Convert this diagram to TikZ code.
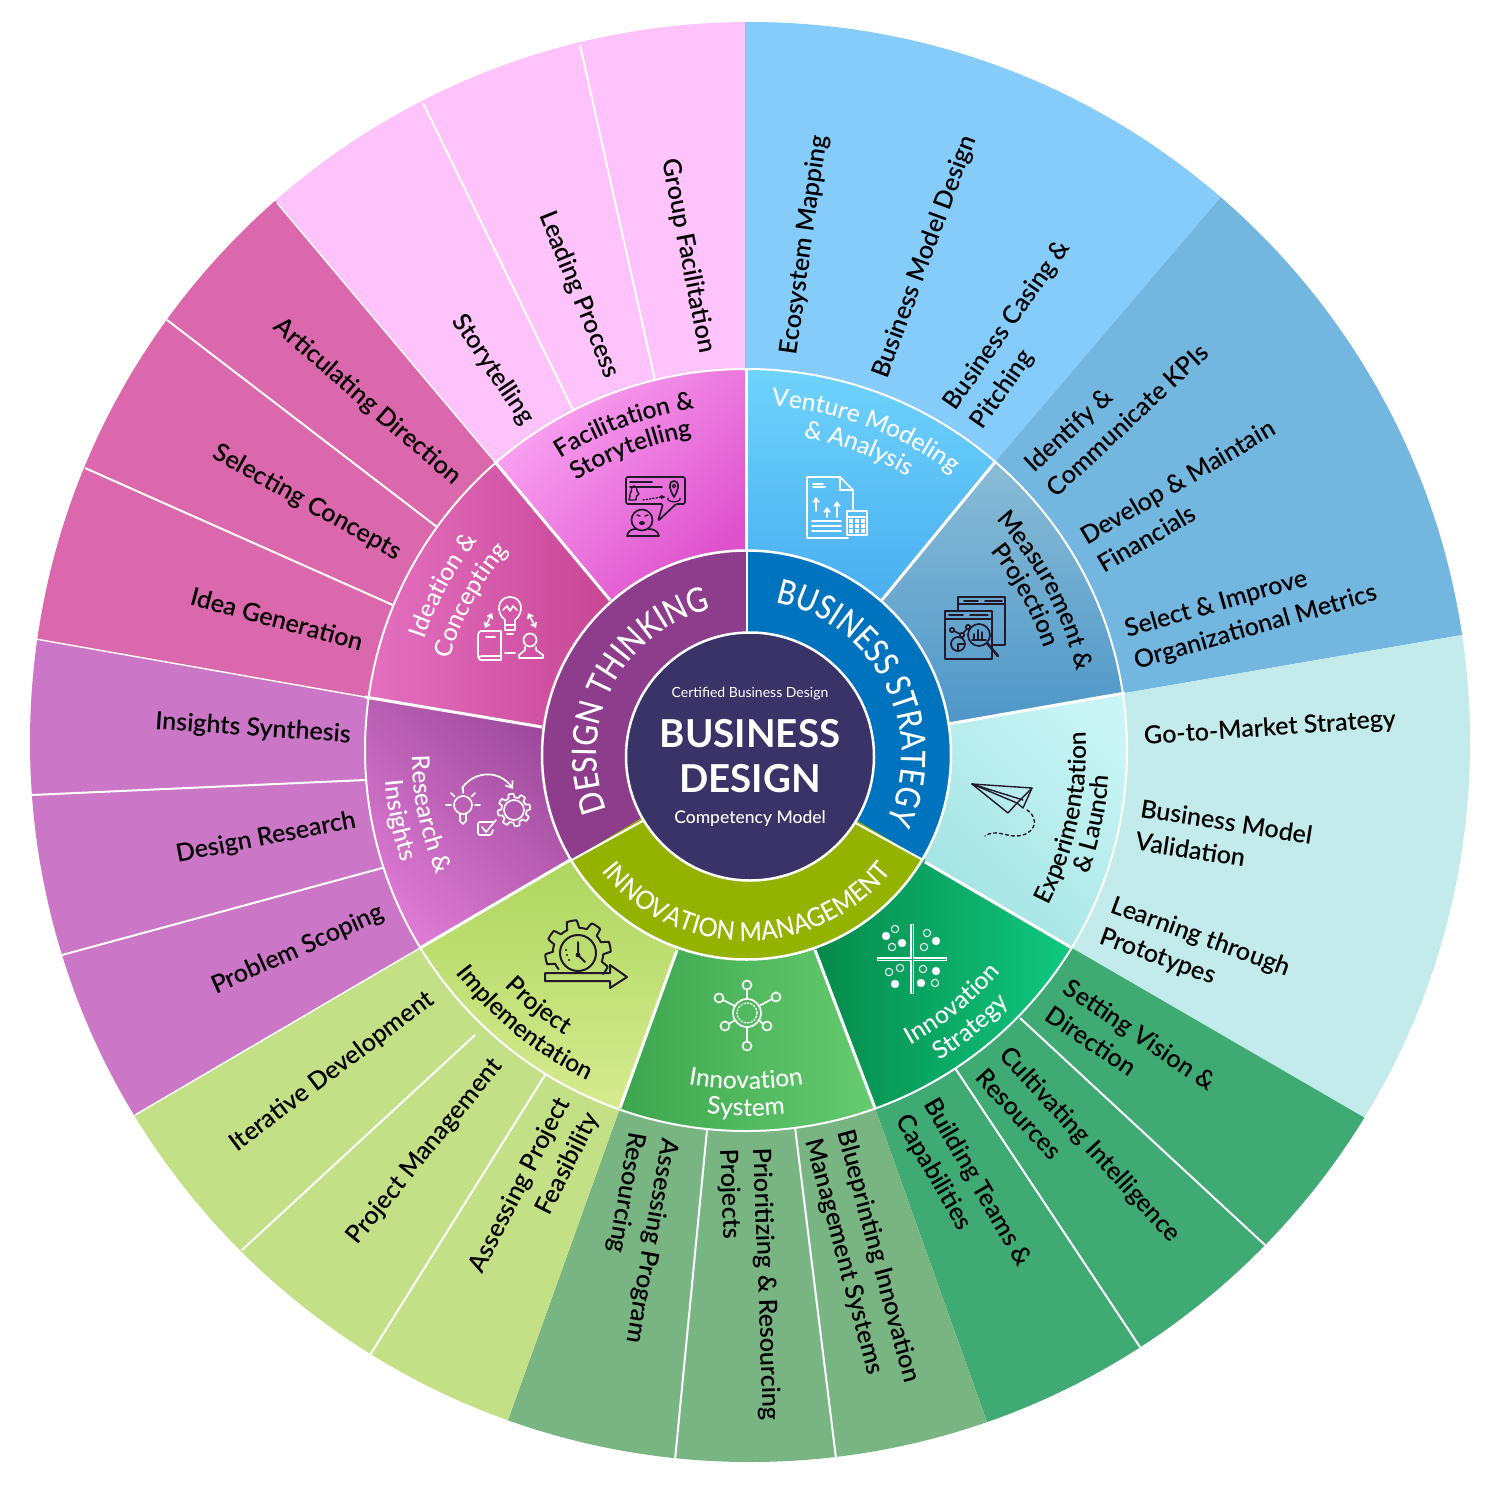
\documentclass[tikz,border=0pt]{standalone}
\usepackage{fontspec}
\usetikzlibrary{calc,decorations.text,arrows.meta}
\setmainfont{Lato Semibold}
\newfontfamily\titlefont{Lato}
\newfontfamily\thinfont{Lato}
\newfontfamily\medfont{Lato Medium}
\newfontfamily\condA{Lato Medium}[FakeStretch=0.86]
\newfontfamily\condB{Lato Medium}[FakeStretch=0.84]
\newfontfamily\condC{Lato Medium}[FakeStretch=0.92]
\definecolor{oBlueA}{HTML}{85CCFA}
\definecolor{oBlueB}{HTML}{73B6E0}
\definecolor{oTeal}{HTML}{C3EBEC}
\definecolor{oDkGreen}{HTML}{40AA74}
\definecolor{oGrey}{HTML}{79B583}
\definecolor{oLtGreen}{HTML}{C3E087}
\definecolor{oPurple}{HTML}{CB76C7}
\definecolor{oMagenta}{HTML}{DB68AC}
\definecolor{oPink}{HTML}{FEC3FA}
\definecolor{cPurple}{HTML}{8E3D8C}
\definecolor{cBlue}{HTML}{0073BF}
\definecolor{cOlive}{HTML}{94B200}
\definecolor{cCore}{HTML}{3A3368}
\definecolor{icDark}{HTML}{22182A}
\definecolor{mVentA}{HTML}{6ED3FC}
\definecolor{mVentB}{HTML}{4AAEF0}
\definecolor{mMeasA}{HTML}{8ABCD6}
\definecolor{mMeasB}{HTML}{4E97C9}
\definecolor{mExpA}{HTML}{A3E3E3}
\definecolor{mExpB}{HTML}{C9F5F6}
\definecolor{mStrA}{HTML}{068A4B}
\definecolor{mStrB}{HTML}{10C880}
\definecolor{mSysA}{HTML}{3CA64E}
\definecolor{mSysB}{HTML}{66CB70}
\definecolor{mProA}{HTML}{AED65F}
\definecolor{mProB}{HTML}{D6EB90}
\definecolor{mResA}{HTML}{DF7BD5}
\definecolor{mResB}{HTML}{9E4A9C}
\definecolor{mIdeA}{HTML}{E470C0}
\definecolor{mIdeB}{HTML}{C94595}
\definecolor{mFacA}{HTML}{FAA5F3}
\definecolor{mFacB}{HTML}{DE50CC}
\newcommand\outerw[5]{\fill[#1] (C) -- #2 -- ($#2!1.6!#3$) -- ($#5!1.6!#4$) -- #5 -- cycle;}
\newcommand\ringw[5]{\shade[#1] #2 -- ($(C)+(#3:381pt)$) arc[start angle=#3,end angle=#4,radius=381pt] -- #5 -- cycle;}
\newcommand\midfontw{\medfont\fontsize{24.5}{30}\selectfont\color{white}}
\newcommand\midfontk{\fontsize{24.5}{30}\selectfont\color{black}}
\newcommand\coreA{\condA\fontsize{34}{40}\selectfont\color{white}}
\newcommand\coreB{\condB\fontsize{34}{40}\selectfont\color{white}}
\newcommand\innofont{\condC\fontsize{26}{30}\selectfont\color{white}}
\newcommand\arctext[5]{\path[decorate,decoration={text along path,text align=center,text={|#5|#4}}] ($(C)+(#2:#1pt)$) arc[start angle=#2,end angle=#3,radius=#1pt];}
\newcommand\arctextK[5]{\path[decorate,decoration={text along path,text align=center,text={|#5|#4}}] ($(K)+(#2:#1pt)$) arc[start angle=#2,end angle=#3,radius=#1pt];}
\newcommand\gearshape[6]{\draw[#6] plot[samples=240,domain=#4] ({#1+(#3+0.13*#3*max(-1,min(1,3*sin(#5*\x))))*cos(\x)},{#2-(#3+0.13*#3*max(-1,min(1,3*sin(#5*\x))))*sin(\x)});}
\tikzset{
  lbl/.style={font=\fontsize{25}{33}\selectfont,inner sep=0pt,align=center,text=black},
  lblL/.style={lbl,align=left},
  lblR/.style={lbl,align=right},
  sep/.style={white,line width=2pt},
  bigsep/.style={white,line width=3pt},
  ic/.style={line width=1.7pt,line cap=round,line join=round},
  icw/.style={ic,white},
  ick/.style={ic,icDark},
}
\begin{document}
\begin{tikzpicture}[x=1pt,y=-1pt]
\useasboundingbox (0,0) rectangle (1500,1485);
\fill[white] (0,0) rectangle (1500,1485);
\coordinate (C) at (746,750);
\coordinate (K) at (746.5,755);
% ---------- outer ring
\begin{scope}
\clip (750,742) circle[radius=720pt];
\outerw{oPink}{(495,462)}{(277,203)}{(745,22)}{(745,370)}
\outerw{oBlueA}{(745,370)}{(745,22)}{(1220,198)}{(995,462)}
\outerw{oBlueB}{(995,462)}{(1220,198)}{(1462,635)}{(1125,693)}
\outerw{oTeal}{(1125,693)}{(1462,635)}{(1365,1118)}{(1072,948)}
\outerw{oDkGreen}{(1072,948)}{(1365,1118)}{(987,1422)}{(875,1108)}
\outerw{oGrey}{(875,1108)}{(987,1422)}{(508,1420)}{(620,1108)}
\outerw{oLtGreen}{(620,1108)}{(508,1420)}{(135,1115)}{(420,948)}
\outerw{oPurple}{(420,948)}{(135,1115)}{(30,638)}{(365,697)}
\outerw{oMagenta}{(365,697)}{(30,638)}{(277,203)}{(495,462)}
\draw[sep] (655,380) -- (580,45);
\draw[sep] (573,410) -- (423,103);
\draw[sep] (437,527) -- (167,320);
\draw[sep] (395,606) -- (85,468);
\draw[sep] (365,780) -- (32,795);
\draw[sep] (386,867) -- (62,955);
\draw[sep] (475,1035) -- (242,1250);
\draw[sep] (545,1075) -- (370,1355);
\draw[sep] (707,1130) -- (675,1460);
\draw[sep] (795,1127) -- (836,1458);
\draw[sep] (955,1068) -- (1140,1347);
\draw[sep] (1020,1018) -- (1265,1245);
\draw[sep,line width=1.4pt] (495,462) -- (277,203);
\draw[sep,line width=1.4pt] (365,697) -- (30,638);
\draw[sep,line width=1.4pt] (420,948) -- (135,1115);
\end{scope}
% ---------- middle ring
\ringw{left color=mFacA,right color=mFacB,shading angle=45}{(610,600)}{131.1}{90}{(746,551)}
\ringw{top color=mVentA,bottom color=mVentB}{(746,551)}{90}{49.2}{(882,600)}
\ringw{top color=mMeasA,bottom color=mMeasB}{(882,600)}{49.2}{8.55}{(948,724)}
\ringw{left color=mExpA,right color=mExpB,shading angle=135}{(948,724)}{8.55}{-31.3}{(925,862)}
\ringw{left color=mStrA,right color=mStrB}{(925,862)}{-31.3}{-70.3}{(815,950)}
\ringw{left color=mSysA,right color=mSysB}{(815,950)}{289.7}{250.5}{(677,950)}
\ringw{top color=mProA,bottom color=mProB}{(677,950)}{250.5}{211.3}{(570,860)}
\ringw{left color=mResA,right color=mResB,shading angle=135}{(570,860)}{211.3}{172}{(542,727)}
\ringw{left color=mIdeA,right color=mIdeB}{(542,727)}{172}{131.1}{(610,600)}
\draw[sep] (C) circle[radius=381pt];
\draw[bigsep] (746,551) -- (746,370);
\draw[bigsep] (882,600) -- (995,462);
\draw[bigsep] (948,724) -- (1125,693);
\draw[bigsep] (925,862) -- (1072,948);
\draw[bigsep] (815,950) -- (875,1108);
\draw[bigsep] (677,950) -- (620,1108);
\draw[bigsep] (570,860) -- (420,948);
\draw[bigsep] (542,727) -- (365,697);
\draw[bigsep] (610,600) -- (495,462);
% ---------- core ring
\fill[cPurple] (K) -- ($(K)+(211:204.5pt)$) arc[start angle=211,end angle=90,radius=204.5pt] -- cycle;
\fill[cBlue] (K) -- ($(K)+(90:204.5pt)$) arc[start angle=90,end angle=-30.7,radius=204.5pt] -- cycle;
\fill[cOlive] (K) -- ($(K)+(-30.7:204.5pt)$) arc[start angle=-30.7,end angle=-149,radius=204.5pt] -- cycle;
\draw[white,line width=2.5pt] (K) circle[radius=204.5pt];
\draw[white,line width=2pt] (746.5,551) -- (746.5,640);
\draw[white,line width=2pt] (923,860) -- (850,820);
\draw[white,line width=2pt] (570,861) -- (648,818);
\fill[cCore,draw=white,line width=2.5pt] (750,756.5) circle[radius=124pt];
% ---------- centre text
\node[inner sep=0pt,text=white,font=\thinfont\fontsize{14}{17}\selectfont] (cert) at (750,694) {Certified Business Design};
\node[inner sep=0pt,text=white,font=\titlefont\bfseries\fontsize{38.5}{40}\selectfont,anchor=base] (bus) at (750,747) {BUSINESS};
\node[inner sep=0pt,text=white,font=\titlefont\bfseries\fontsize{38.5}{40}\selectfont,anchor=base] (des) at (750,792) {DESIGN};
\node[inner sep=0pt,text=white,font=\medfont\fontsize{17.5}{20}\selectfont] (comp) at (750,819) {Competency Model};
% ---------- core curved text
\arctextK{150}{210}{95}{DESIGN THINKING}{\coreA}
\arctextK{155}{85}{-31}{BUSINESS STRATEGY}{\coreB}
\arctextK{186}{212}{328}{INNOVATION MANAGEMENT}{\innofont}
% ---------- middle ring curved text
\arctext{345}{92}{47}{Venture Modeling}{\midfontw}
\arctext{318}{90}{49}{{\&} Analysis}{\midfontw}
\arctext{340}{50}{6}{Measurement {\&}}{\midfontk}
\arctext{315}{50}{8}{Projection}{\midfontk}
\arctext{340}{-34}{10}{Experimentation}{\midfontk}
\arctext{364}{-34}{10}{{\&} Launch}{\midfontk}
\arctext{338}{-72}{-30}{Innovation}{\midfontw}
\arctext{366}{-72}{-30}{Strategy}{\midfontw}
\arctext{339}{250}{290}{Innovation}{\midfontw}
\arctext{366}{250}{290}{System}{\midfontw}
\arctext{338}{212}{250}{Project}{\midfontk}
\arctext{366}{212}{250}{Implementation}{\midfontk}
\arctext{334}{172}{211}{Research {\&}}{\midfontw}
\arctext{362}{172}{211}{Insights}{\midfontw}
\arctext{340}{172}{131}{Ideation {\&}}{\midfontw}
\arctext{310}{172}{131}{Concepting}{\midfontw}
\arctext{345}{131}{90}{Facilitation {\&}}{\midfontk}
\arctext{318}{132}{90}{Storytelling}{\midfontk}
% ---------- outer labels
\node[lbl,rotate=82] (t1) at (805,245) {Ecosystem Mapping};
\node[lbl,rotate=69.7] (t2) at (925,257) {Business Model Design};
\node[lblL,rotate=55] (t3) at (1021,335) {Business Casing \&\\Pitching};
\node[lblL,rotate=43] (t4) at (1116,408) {Identify \&\\Communicate KPIs};
\node[lblL,rotate=30.5] (t5) at (1186,496) {Develop \& Maintain\\Financials};
\node[lblL,rotate=16] (t6) at (1251,612) {Select \& Improve\\Organizational Metrics};
\node[lbl,rotate=4] (t7) at (1270,729) {Go-to-Market Strategy};
\node[lblL,rotate=-9] (t8) at (1224,838) {Business Model\\Validation};
\node[lblL,rotate=-20] (t9) at (1195,953) {Learning through\\Prototypes};
\node[lblL,rotate=-34] (t10) at (1131,1048) {Setting Vision \&\\Direction};
\node[lblL,rotate=-47.5] (t11) at (1079,1155) {Cultivating Intelligence\\Resources};
\node[lblL,rotate=-60] (t12) at (963,1191) {Building Teams \&\\Capabilities};
\node[lblL,rotate=-75] (t13) at (862,1261) {Blueprinting Innovation\\Management Systems};
\node[lblL,rotate=-88] (t14) at (749,1285) {Prioritizing \& Resourcing\\Projects};
\node[lblL,rotate=-100] (t15) at (635,1238) {Assessing Program\\Resourcing};
\node[lblR,rotate=63] (t16) at (535,1193) {Assessing Project\\Feasibility};
\node[lbl,rotate=51] (t17) at (425,1152) {Project Management};
\node[lbl,rotate=37] (t18) at (332,1072) {Iterative Development};
\node[lbl,rotate=24] (t19) at (298,950) {Problem Scoping};
\node[lbl,rotate=11] (t20) at (266,838) {Design Research};
\node[lbl,rotate=-4] (t21) at (253,729) {Insights Synthesis};
\node[lbl,rotate=-15] (t22) at (277,619) {Idea Generation};
\node[lbl,rotate=-29] (t23) at (307,503) {Selecting Concepts};
\node[lbl,rotate=-41] (t24) at (367,402) {Articulating Direction};
\node[lbl,rotate=-56] (t25) at (493,370) {Storytelling};
\node[lbl,rotate=-68] (t26) at (579,295) {Leading Process};
\node[lbl,rotate=-79] (t27) at (688,256) {Group Facilitation};
% ---------- icon: facilitation
\draw[ick,rounded corners=1.5pt] (626,477) -- (685,477) -- (685,504) -- (676,504) -- (658,521) -- (663,504) -- (626,504) -- cycle;
\draw[ick] (630,482) -- (652,482) (630,487) -- (662,487);
\draw[ick] (642,520) circle[radius=10.5pt];
\draw[ick] (627,536) .. controls (628,530) and (633,529) .. (636,529) (648,529) .. controls (652,529) and (658,530) .. (659,536) -- (627,536);
\draw[ick,line width=1.3pt] (637,515) -- (640,516) (645,516) -- (648,515);
\fill[icDark] (642,523) ellipse[x radius=3pt,y radius=2pt];
\draw[ick,line width=1.4pt] (636,500) .. controls (636,495) and (638,495) .. (639,494) .. controls (635,490) and (638,486) .. (634,486) .. controls (630,486) and (633,490) .. (630,494) .. controls (631,495) and (629,498) .. (629,500) -- cycle;
\draw[ick,line width=1.3pt,dotted] (643,500) -- (662,497);
\draw[ick,line width=1.3pt,-{Latex[length=5pt,width=5pt]}] (660,497) -- (666,497);
\draw[ick] (674,481) .. controls (669,481) and (668,487) .. (674,497) .. controls (680,487) and (679,481) .. (674,481);
\draw[ick,line width=1.3pt] (674,486) circle[radius=1.8pt];
\draw[ick,line width=1.3pt] (668,498) .. controls (666,503) and (682,503) .. (680,498);
% ---------- icon: venture
\begin{scope}[icw]
\draw (848,538) -- (807,538) -- (807,477) -- (840,477) -- (853,490) -- (853,510);
\draw (840,477) -- (840,490) -- (853,490);
\draw (813,484) -- (823,484) (813,487) -- (825,487);
\draw[-{Straight Barb[length=4pt,width=6pt]}] (816,511) -- (816,497);
\draw[-{Straight Barb[length=4pt,width=6pt]}] (827,517) -- (827,507);
\draw[-{Straight Barb[length=4pt,width=6pt]}] (837,517) -- (837,501);
\draw (812,521) -- (841,521) (812,526) -- (841,526) (812,531) -- (841,531);
\draw (847,511) rectangle (867,535);
\draw (847,517) -- (867,517);
\foreach \xx in {851,857,863} \foreach \yy in {521,526,531} \fill[white] (\xx-1.6,\yy-1.6) rectangle (\xx+1.6,\yy+1.6);
\end{scope}
% ---------- icon: measurement
\begin{scope}[ick]
\draw (992,645) -- (1005,645) -- (1005,597) -- (958,597) -- (958,611);
\draw (945,611) rectangle (992,659);
\draw (945,619) -- (992,619);
\draw (958,604) -- (1005,604);
\draw (964,601) -- (978,601) (985,601) -- (1002,601);
\draw (949,615) -- (963,615) (970,615) -- (988,615);
\fill[mMeasB!70!mMeasA] (979,635) circle[radius=11pt];
\draw (979,635) circle[radius=11pt];
\draw[line width=2.6pt] (987,643) -- (998,656);
\draw (952,630) circle[radius=2.2pt] (962,635) circle[radius=2.2pt] (968,627) circle[radius=2.2pt];
\draw (954,631) -- (960,634) (963,633) -- (967,629);
\draw (958,644) circle[radius=7pt];
\draw (958,644) -- (958,651) (958,644) -- (965,644);
\draw (974,640) -- (974,634) (978,640) -- (978,630) (982,640) -- (982,632) (972,640) -- (986,640);
\end{scope}
% ---------- icon: plane
\begin{scope}[ick,line width=1.4pt]
\draw (972,784) -- (1032,788) -- (1023,808) -- (1017,803) -- (1008,813) -- cycle;
\draw (972,784) -- (1017,803) -- (1032,788);
\draw (972,784) -- (1023,800);
\draw[dashed] (1027,810) .. controls (1040,818) and (1036,836) .. (1015,836) .. controls (1005,836) and (995,829) .. (985,836);
\end{scope}
% ---------- icon: strategy
\begin{scope}[white]
\draw[line width=3.4pt] (912,924) -- (912,994) (877,959) -- (947,959);
\draw[mStrA!50!mStrB,line width=1pt] (912,925) -- (912,993) (878,959) -- (946,959);
\foreach \xx/\yy in {886/936,902/943,936/941,936/971,895/984,921/983} \fill (\xx,\yy) circle[radius=4.2pt];
\foreach \xx/\yy in {895/929,892/947,927/933,924/947,889/972,900/968,923/969,935/983} \draw[line width=1pt] (\xx,\yy) circle[radius=3.7pt];
\end{scope}
% ---------- icon: system
\begin{scope}[icw]
\draw (747,1013) circle[radius=14pt];
\draw[dotted,line width=1.4pt] (747,1013) circle[radius=10pt];
\foreach \xx/\yy in {747/985,776/997,719/998,725/1026,767/1026,747/1046} \draw (\xx,\yy) circle[radius=4.5pt];
\draw (747,999) -- (747,990) (759,1006) -- (772,999) (735,1006) -- (723,1000) (735,1020) -- (729,1024) (759,1020) -- (763,1024) (747,1027) -- (747,1041);
\end{scope}
% ---------- icon: project
\gearshape{578}{953}{29}{-40:220}{8}{ick,line width=2pt}
\begin{scope}[ick,line width=2pt]
\draw (578,953) circle[radius=18pt];
\draw (578,942) -- (578,955) -- (585,962);
\fill[icDark] (578,955) circle[radius=2.4pt];
\foreach \xx/\yy in {566/950,567/955,569/960} \fill[icDark] (\xx,\yy) circle[radius=1.1pt];
\draw (545,973) -- (610,973) -- (610,965) -- (627,977) -- (610,988) -- (610,981) -- (545,981) -- cycle;
\end{scope}
% ---------- icon: research
\begin{scope}[icw]
\draw (463,805) circle[radius=9pt];
\draw (460,814) -- (460,821) -- (463,824) -- (466,821) -- (466,814);
\foreach \a in {0,45,90,135,180} \draw ($(463,805)+(\a:12pt)$) -- ($(463,805)+(\a:17pt)$);
\draw[-{Straight Barb[length=6pt,width=9pt]}] (462,788) .. controls (475,770) and (500,770) .. (513,789);
\draw[rounded corners=1.5pt] (493,822) -- (478,822) -- (478,835) -- (491,835) -- (493,830);
\draw (482,827) -- (486,832) -- (496,820);
\draw (514,810) circle[radius=10pt];
\end{scope}
\gearshape{514}{810}{14.5}{0:360}{8}{icw}
% ---------- icon: ideation
\begin{scope}[icw]
\draw (505,620) .. controls (495,612) and (498,597) .. (510,597) .. controls (522,597) and (525,612) .. (515,620) -- (515,630) -- (505,630) -- cycle;
\draw (505,625) -- (515,625) (507,634) -- (513,634);
\draw (503,610) -- (507,606) -- (510,611) -- (513,606) -- (517,610);
\draw (481,631) -- (501,631) -- (501,660) -- (481,660) .. controls (478,660) and (478,656) .. (478,653) -- (478,636) .. controls (478,633) and (479,631) .. (481,631);
\draw (478,656) .. controls (478,658) and (480,656) .. (482,656) -- (501,656);
\draw (486,637) -- (495,637);
\draw (505,653) -- (515,653);
\draw (530,640) circle[radius=6.5pt];
\draw (525,647) -- (525,650) -- (519,655) -- (519,658) -- (543,658) -- (543,655) -- (536,650) -- (536,647);
\draw[{Straight Barb[length=4pt,width=6pt]}-{Straight Barb[length=4pt,width=6pt]}] (492,613) -- (485,628);
\draw[{Straight Barb[length=4pt,width=6pt]}-{Straight Barb[length=4pt,width=6pt]}] (528,613) -- (536,628);
\end{scope}
\end{tikzpicture}
\end{document}
